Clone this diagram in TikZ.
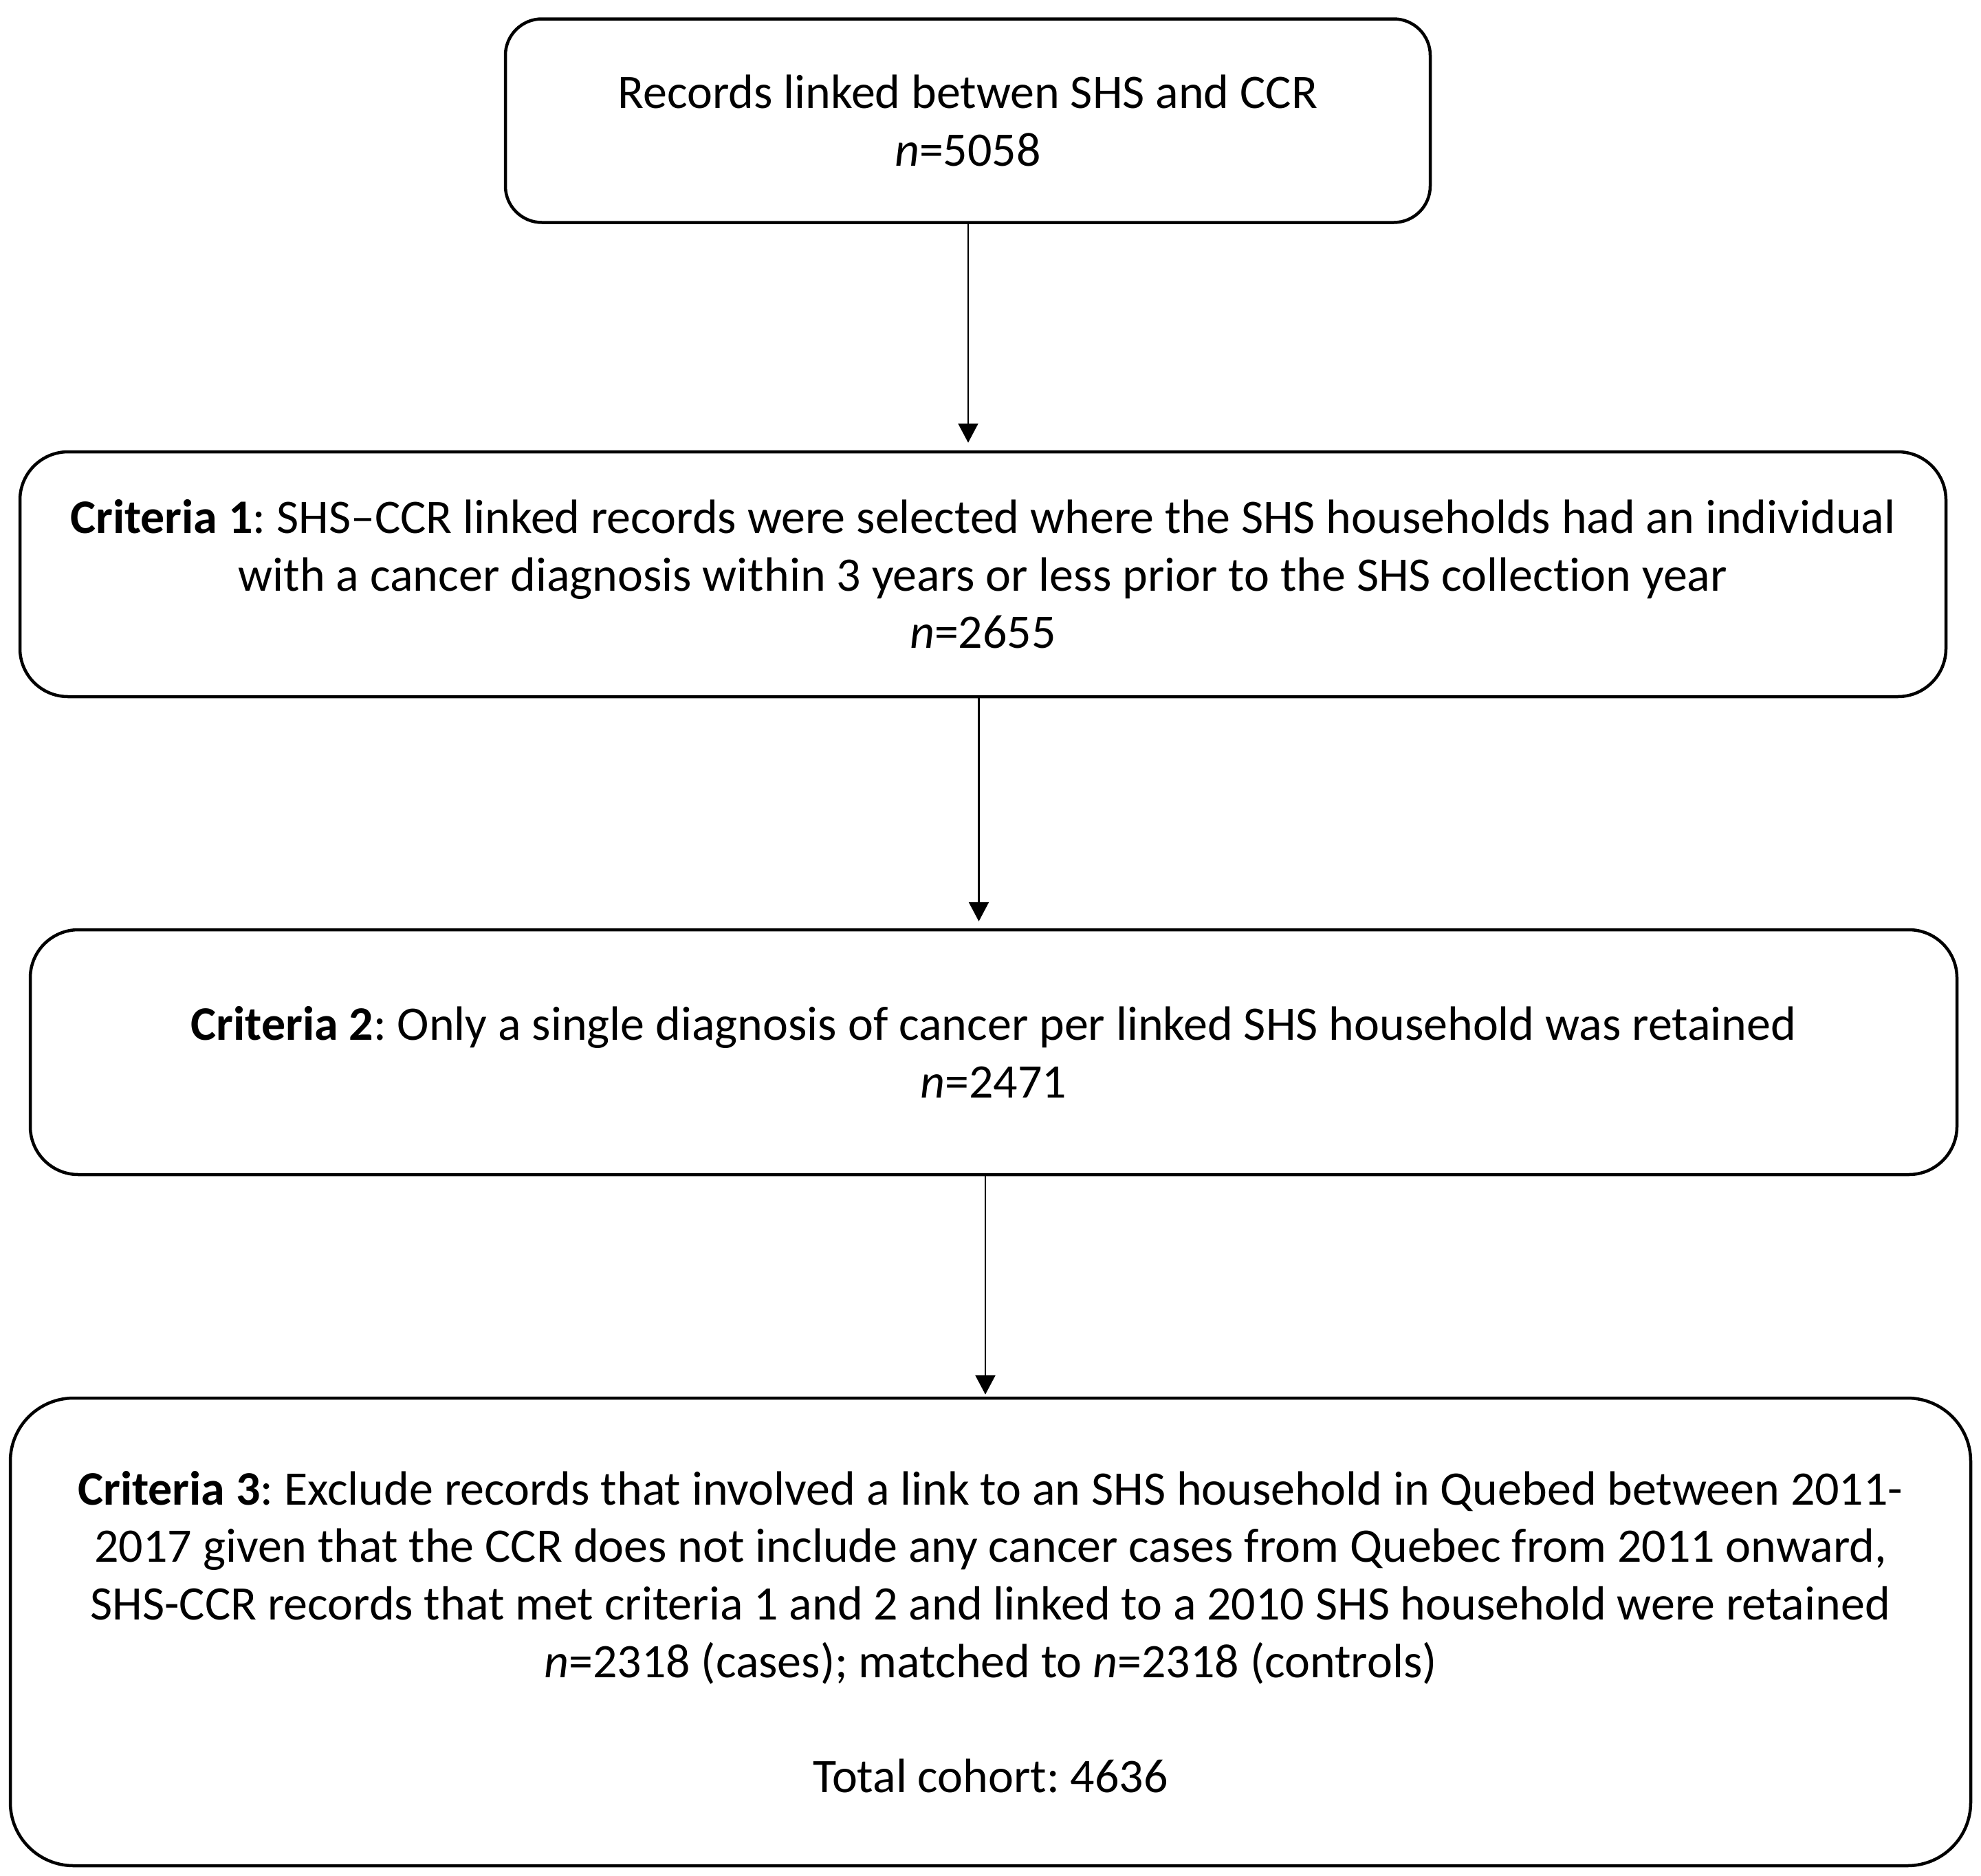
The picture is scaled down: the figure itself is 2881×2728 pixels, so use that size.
\documentclass[tikz,border=0pt]{standalone}
\usepackage{fontspec}
\setmainfont{Carlito}[Ligatures=NoCommon]
\usetikzlibrary{arrows.meta}
\frenchspacing
\begin{document}
\begin{tikzpicture}[x=1pt,y=-1pt,
  box/.style={draw=black, line width=4.5pt, align=center, inner sep=0pt,
    font=\fontsize{70}{83.6}\selectfont\frenchspacing},
  arr/.style={draw=black, line width=2.5pt, -{Triangle[length=28pt,width=29pt]}}]
\useasboundingbox (0,0) rectangle (2881,2728);
\node[box, minimum width=1345pt, minimum height=296pt, rounded corners=53pt] (b1) at (1407.5,175.5)
  {Records linked betwen SHS and CCR\\\textit{n}=5058};
\node[box, minimum width=2801pt, minimum height=356pt, rounded corners=70pt] (b2) at (1429.5,835)
  {\textbf{Criteria 1}: SHS–CCR linked records were selected where the SHS households had an individual\\
   with a cancer diagnosis within 3 years or less prior to the SHS collection year\\
   \textit{n}=2655};
\node[box, minimum width=2802pt, minimum height=356pt, rounded corners=70pt] (b3) at (1445,1530)
  {\textbf{Criteria 2}: Only a single diagnosis of cancer per linked SHS household was retained\\
   \textit{n}=2471};
\node[box, minimum width=2851pt, minimum height=680pt, rounded corners=92pt] (b4) at (1440.5,2373)
  {\textbf{Criteria 3}: Exclude records that involved a link to an SHS household in Quebed between 2011-\\
   2017 given that the CCR does not include any cancer cases from Quebec from 2011 onward,\\
   SHS-CCR records that met criteria 1 and 2 and linked to a 2010 SHS household were retained\\
   \textit{n}=2318 (cases); matched to \textit{n}=2318 (controls)\\[83.6pt]
   Total cohort: 4636};
\coordinate (x1) at (1408,0);
\coordinate (x2) at (1423.5,0);
\coordinate (x3) at (1433,0);
\draw[arr, shorten >=11pt] (b1.south -| x1) -- (b2.north -| x1);
\draw[arr, shorten >=10pt] (b2.south -| x2) -- (b3.north -| x2);
\draw[arr, shorten >=3pt] (b3.south -| x3) -- (b4.north -| x3);
\end{tikzpicture}
\end{document}
